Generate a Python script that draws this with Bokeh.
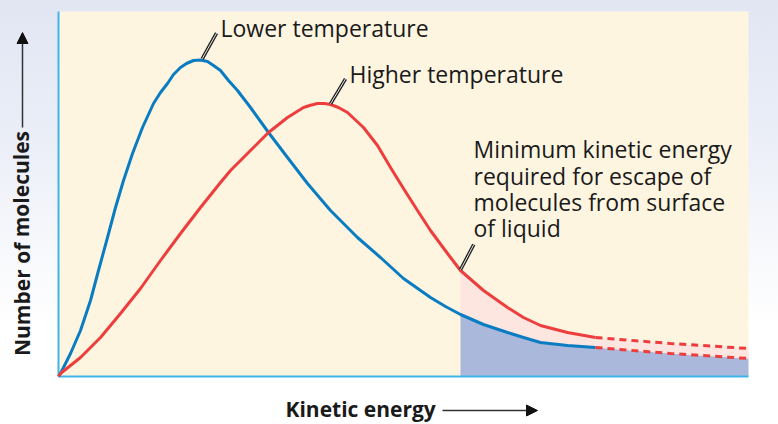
from bokeh.plotting import figure
from bokeh.models import Label, Arrow, NormalHead, Range1d
from bokeh.embed import file_html
from bokeh.resources import INLINE

# ---- data (arbitrary units) ----
energy_max = 690
count_max = 365

blue_energy = [0, 2, 12, 22, 32, 40, 49, 57, 65, 74, 84, 95, 102, 109, 115, 122, 128, 135, 142, 149,
               155, 162, 170, 179, 192, 210, 229, 249, 272, 299, 322, 345, 372, 387, 402, 425, 449,
               465, 482, 509, 537]
blue_count = [0, 3, 23, 46, 76, 106, 139, 169, 196, 223, 249, 273, 284, 293, 302, 309, 313, 316, 316.5, 315,
              311, 306, 296, 286, 269, 244, 219, 193, 166, 139, 119, 98, 79, 70, 62, 52, 44,
              39, 34, 31, 29]
blue_dash_energy = [537, 612, 690]
blue_dash_count = [29, 23, 18]

red_energy = [0, 2, 22, 42, 62, 82, 102, 122, 142, 162, 172, 192, 210, 229, 245, 252, 259, 266, 272,
              280, 289, 305, 319, 332, 345, 359, 372, 389, 402, 425, 449, 465, 482, 509, 537]
red_count = [0, 3, 19, 39, 63, 88, 116, 143, 169, 194, 206, 226, 244, 259, 269, 271.3, 273, 273, 272,
             269, 264, 249, 231, 209, 188, 166, 146, 123, 106, 86, 69, 59, 51, 44, 39]
red_dash_energy = [537, 612, 690]
red_dash_count = [39, 33, 28]

escape_energy = 402

label_low = "Lower temperature"
label_high = "Higher temperature"
label_min = ["Minimum kinetic energy", "required for escape of",
             "molecules from surface", "of liquid"]
x_title = "Kinetic energy"
y_title = "Number of molecules"

# tail region (energies above the escape minimum)
bx = blue_energy + blue_dash_energy[1:]
by = blue_count + blue_dash_count[1:]
rx = red_energy + red_dash_energy[1:]
ry = red_count + red_dash_count[1:]
tail_x = [x for x in bx if x >= escape_energy]
tail_blue = [y for x, y in zip(bx, by) if x >= escape_energy]
tail_red = [y for x, y in zip(rx, ry) if x >= escape_energy]

FONT = "Open Sans"
BLUE = "#0a7cc2"
RED = "#ee3d3d"
TXT = "#1a1a1a"
AXIS = "#3db5e8"

# the frame covers the whole canvas; the plotting area is drawn as a quad
p = figure(width=778, height=424, x_range=Range1d(-58, 720), y_range=Range1d(-48, 376),
           output_backend="svg", toolbar_location=None, min_border=0)
p.axis.visible = False
p.grid.visible = False
p.outline_line_color = None
p.background_fill_color = None
p.border_fill_color = None
p.styles = {"background": "linear-gradient(to bottom, #e1e6f3 0%, #eceff8 35%, #f8f9fc 60%, #ffffff 78%)"}

p.quad(left=0, right=energy_max, bottom=0, top=count_max, fill_color="#fef5e1", line_color=None)

# shaded tail
p.varea(x=tail_x, y1=[0] * len(tail_x), y2=tail_blue, fill_color="#aab8dc")
p.varea(x=tail_x, y1=tail_blue, y2=tail_red, fill_color="#fde6e0")

# axis lines
p.segment(x0=[0, 0], y0=[0, 0], x1=[0, energy_max], y1=[count_max, 0],
          line_color=AXIS, line_width=2)

# curves
p.line(blue_energy, blue_count, line_color=BLUE, line_width=3, line_join="round")
p.line(red_energy, red_count, line_color=RED, line_width=3, line_join="round")
p.line(blue_dash_energy, blue_dash_count, line_color=RED, line_width=3, line_dash="7 5")
p.line(red_dash_energy, red_dash_count, line_color=RED, line_width=3, line_dash="7 5")

# leader lines
lx0 = [143.7, 272, 402]
ly0 = [317.7, 272.7, 106.7]
lx1 = [158, 287, 415.3]
ly1 = [343.3, 297.7, 132]
p.segment(lx0, ly0, lx1, ly1, line_color="#222222", line_width=3.5)
p.segment(lx0, ly0, lx1, ly1, line_color="#e8e8e8", line_width=1)

p.add_layout(Label(x=162, y=349, text=label_low, text_font=FONT, text_font_size="23px",
                   text_baseline="alphabetic", text_color=TXT))
p.add_layout(Label(x=291, y=303, text=label_high, text_font=FONT, text_font_size="23px",
                   text_baseline="alphabetic", text_color=TXT))
for i, t in enumerate(label_min):
    p.add_layout(Label(x=415, y=227.3 - i * 26.3, text=t, text_font=FONT, text_font_size="23px",
                       text_baseline="alphabetic", text_color=TXT))

# axis titles with arrows
p.add_layout(Label(x=227, y=-32, text=x_title, text_font=FONT, text_font_size="21px",
                   text_font_style="bold", text_baseline="alphabetic", text_color=TXT))
p.add_layout(Arrow(x_start=384, y_start=-34, x_end=479, y_end=-34, line_color="#333333",
                   line_width=1.5, end=NormalHead(size=11, fill_color="#111111",
                                                  line_color="#111111")))
p.add_layout(Label(x=-37, y=133, text=y_title, text_font=FONT, text_font_size="21px",
                   text_font_style="bold", text_baseline="middle", text_align="center",
                   angle=1.5708, text_color=TXT))
p.add_layout(Arrow(x_start=-36, y_start=249, x_end=-36, y_end=344, line_color="#333333",
                   line_width=1.5, end=NormalHead(size=11, fill_color="#111111",
                                                  line_color="#111111")))

open("out.html", "w").write(file_html(p, INLINE))
